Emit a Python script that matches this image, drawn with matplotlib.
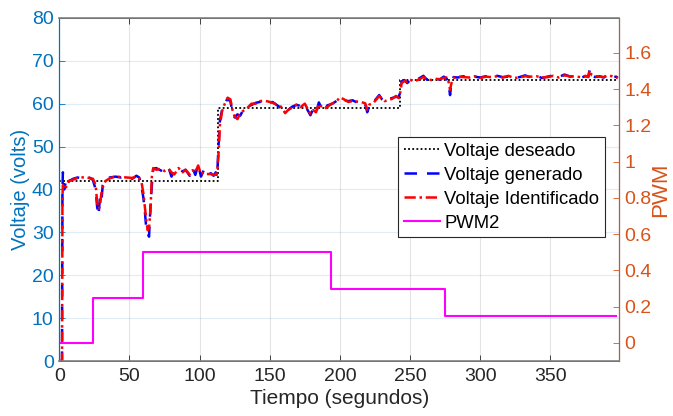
import matplotlib
matplotlib.use("Agg")
import matplotlib.pyplot as plt

plt.rcParams['font.family'] = ['Liberation Sans', 'DejaVu Sans']

# --- data -------------------------------------------------------------
t_des = [0, 113, 243, 398]
v_des = [42, 59, 65.5, 65.5]

t_pwm = [1, 24, 60, 194, 275, 397]
pwm2 = [0, 0.25, 0.5, 0.3, 0.15, 0.15]

t_v = [0, 2, 2.3, 2.6, 3.5, 4.5, 5.5, 7, 10, 13, 16, 19, 22, 24, 26, 27, 28, 29, 30, 31,
       33, 36, 40, 44, 48, 52, 55, 57, 58.5, 60, 61, 62, 63, 64, 65, 66, 67, 69, 72, 75,
       78, 80, 82, 85, 88, 90, 93, 95, 97, 99, 101, 103, 105, 108, 110, 111.5, 112.5, 113.5, 114.5, 116,
       118, 120, 122, 123.5, 125, 127, 129, 131, 134, 137, 140, 143, 146, 149, 152, 155, 158, 161, 163, 166,
       169, 172, 175, 177, 179, 181, 183, 185, 187, 189, 191, 194, 197, 200, 203, 206, 209, 212, 215, 218,
       219.5, 221, 224, 226, 228, 230, 232, 234, 237, 240, 242, 243, 244, 246, 248, 250, 253, 256, 259.5, 262,
       265, 268, 271, 274, 276, 277.5, 278.5, 279.5, 281, 284, 288, 292, 296, 300, 304, 308, 312, 316, 320, 324,
       328, 332, 336, 340, 344, 348, 352, 356, 360, 364, 368, 372, 375, 377, 378, 379.5, 382, 385, 388, 391,
       394, 397, 398]

v_gen = [0, 0, 40, 44, 40, 41.5, 40.5, 42, 42.5, 42.8, 42.6, 43, 42.7, 42.2, 40, 36, 34, 38, 37, 41,
         42.3, 42.8, 43, 42.8, 43, 42.5, 43.2, 42.8, 41, 38, 35, 31, 30, 29, 36, 41, 44.8, 45, 44.5, 44,
         45, 43, 44.5, 44.8, 44.2, 44.6, 43.2, 45, 43.4, 45.8, 43, 44.5, 43.3, 43.8, 43.2, 44, 43, 50, 56, 58.5,
         60, 61.2, 60.5, 58, 56.8, 57.5, 57.2, 58.5, 59.2, 59.7, 60.2, 60.4, 60.9, 60.2, 60.4, 59.7, 59, 58.2, 58.5, 59.3,
         59.7, 59.5, 59.8, 58.5, 57.3, 58.8, 57.8, 60.3, 58.9, 58.3, 59.6, 59.9, 60.5, 61.3, 60.8, 60.6, 60.8, 60.3, 60.6, 59.9,
         58, 59.5, 60.4, 61.2, 62, 61, 60.4, 61, 61.3, 61.6, 61.5, 63, 65.2, 65.5, 64.8, 65.5, 65.3, 65.8, 66.5, 65.6,
         65.7, 66, 65.6, 66.3, 65.9, 64.5, 62, 65, 66.2, 66.1, 66.4, 66, 66.3, 66.1, 66.4, 66, 66.5, 66.2, 66.3, 65.9,
         66.2, 66.6, 66.1, 66.5, 66, 66.3, 66.6, 66.2, 66.8, 66.3, 66.5, 66.1, 66.4, 66.3, 68, 66.5, 66.2, 66.4, 66.1, 66.8,
         66.2, 66.3, 66]

v_id = [0, 0, 38, 41, 40.5, 40, 41.5, 42, 42.3, 42.7, 42.8, 42.9, 42.6, 42.5, 41, 37, 35.5, 36, 39, 40.5,
        42, 42.6, 43, 42.9, 42.8, 42.7, 43, 42.5, 42, 39, 36, 33, 30.5, 31, 35, 43, 45, 44.6, 44.8, 44.3,
        44.8, 44, 43.5, 45, 44, 44.6, 43.5, 44.5, 44, 45.6, 43.6, 44, 43.6, 43.6, 43.4, 43.5, 44, 48, 55, 58.2,
        60, 61.4, 61, 58.5, 57, 56.4, 57.7, 58.3, 59, 60, 60, 60.6, 60.7, 60.5, 60.2, 59.8, 59.3, 57.8, 58.5, 59.1,
        59.8, 59.2, 60, 58.8, 57.7, 58.5, 58, 60, 59.3, 58.8, 59.2, 60, 60.3, 61.5, 61, 60.4, 60.6, 60.5, 60.4, 60.1,
        58.6, 59.8, 60.2, 61, 61.8, 61.2, 60.6, 60.8, 61.1, 61.8, 61.3, 62.6, 64.8, 65.3, 65, 65.6, 65.2, 65.6, 66.2, 65.8,
        65.5, 65.8, 65.7, 66, 66.1, 65, 63.2, 64.8, 66, 66.3, 66.2, 66.1, 66.4, 66, 66.3, 66.2, 66.4, 66.1, 66.5, 66,
        66.1, 66.4, 66.3, 66.4, 66.1, 66.2, 66.5, 66.1, 66.6, 66.4, 66.3, 66.2, 66.5, 66.2, 67.8, 66.6, 66.4, 66.3, 66.2, 66.6,
        66.4, 66.1, 66]

left_ticks = [0, 10, 20, 30, 40, 50, 60, 70, 80]
right_ticks = [0, 0.2, 0.4, 0.6, 0.8, 1.0, 1.2, 1.4, 1.6]
right_labels = ['0', '0.2', '0.4', '0.6', '0.8', '1', '1.2', '1.4', '1.6']
x_ticks = [0, 50, 100, 150, 200, 250, 300, 350]

# --- style -------------------------------------------------------------
BLUE = '#0072BD'
ORANGE = '#D95319'
DARK = '#262626'

fig = plt.figure(figsize=(6.73, 4.16), dpi=100)
ax = fig.add_axes([0.088, 0.132, 0.832, 0.825])
ax2 = ax.twinx()

l1, = ax.plot(t_des, v_des, drawstyle='steps-post', color='black', linestyle=(0, (1, 1.3)), lw=1.3,
              label='Voltaje deseado')
l2, = ax.plot(t_v, v_gen, color='#0000FF', linestyle=(0, (5, 4)), lw=1.8, label='Voltaje generado')
l3, = ax.plot(t_v, v_id, color='#FF0000', linestyle=(0, (4.5, 1.5, 1, 1.5)), lw=1.8,
              label='Voltaje Identificado')
l4, = ax2.plot(t_pwm, pwm2, drawstyle='steps-post', color='#FF00FF', lw=1.5, label='PWM2')

ax.set_xlim(0, 399)
ax.set_ylim(0, 80)
ax2.set_ylim(-0.1, 1.793)

ax.set_xticks(x_ticks)
ax.set_yticks(left_ticks)
ax2.set_yticks(right_ticks)
ax2.set_yticklabels(right_labels)

ax.xaxis.grid(True, color='#262626', alpha=0.12, lw=0.8)
ax.yaxis.grid(True, color=BLUE, alpha=0.12, lw=0.8)
ax.set_axisbelow(True)

ax.tick_params(axis='x', direction='in', length=4, colors=DARK, labelsize=14, top=True, width=0.6,
               labelcolor=DARK, pad=5)
ax.tick_params(axis='y', direction='in', length=4, colors=BLUE, labelsize=14, width=0.6, pad=4)
ax2.tick_params(axis='y', direction='in', length=4, colors=ORANGE, labelsize=14, width=0.6, pad=4)

for s in ['top', 'bottom']:
    ax.spines[s].set_color(DARK)
    ax.spines[s].set_linewidth(0.6)
ax.spines['left'].set_color(BLUE)
ax2.spines['left'].set_color(BLUE)
ax2.spines['right'].set_color(ORANGE)
ax2.spines['top'].set_color('#808080')
ax2.spines['top'].set_linewidth(1.2)
ax2.spines['bottom'].set_color('#808080')
ax2.spines['bottom'].set_linewidth(1.2)

ax.set_xlabel('Tiempo (segundos)', fontsize=15, color=DARK, labelpad=3)
ax.set_ylabel('Voltaje (volts)', fontsize=14.5, color=BLUE, labelpad=1)
ax2.set_ylabel('PWM', fontsize=16, color=ORANGE, labelpad=-1)

leg = ax2.legend(handles=[l1, l2, l3, l4], loc='upper left', bbox_to_anchor=(0.605, 0.652),
                 fontsize=13.3, frameon=True, fancybox=False, framealpha=1, edgecolor='#262626',
                 handlelength=2.0, handletextpad=0.2, borderpad=0.3, labelspacing=0.38,
                 borderaxespad=0)
leg.get_frame().set_linewidth(0.8)

fig.savefig('out.png', dpi=100)
